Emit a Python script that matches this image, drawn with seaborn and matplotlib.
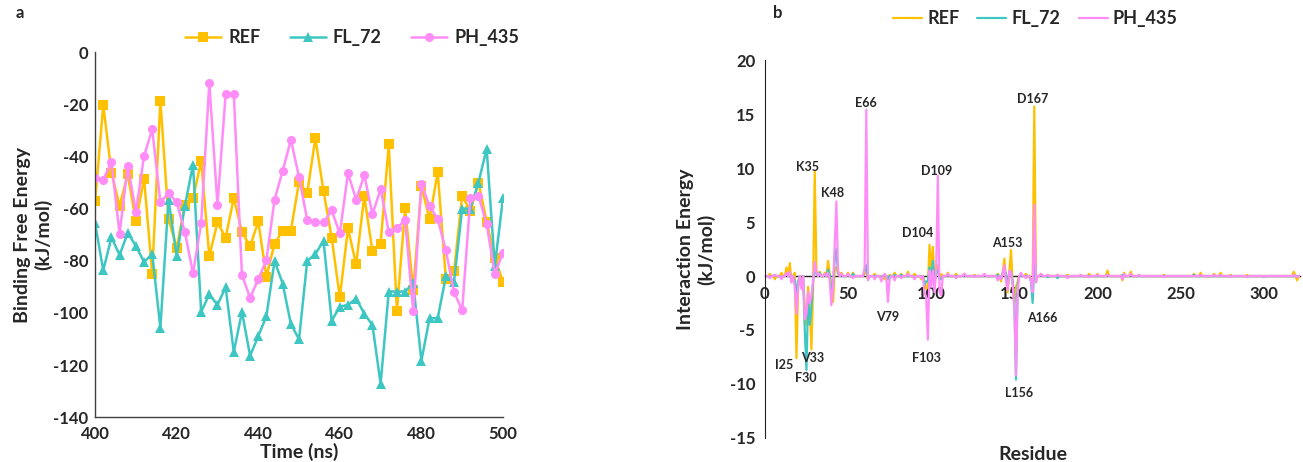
import numpy as np
import pandas as pd
import matplotlib
matplotlib.use("Agg")
import matplotlib.pyplot as plt
import seaborn as sns

# panel a: binding free energy, one frame every 2 ns
time_ns = list(range(400, 501, 2))
ref_bfe = [-57, -20.2, -46.2, -59, -46.8, -64.9, -48.5, -85, -18.6, -64,
           -75.1, -58.5, -56.1, -41.7, -78.3, -65.3, -71.1, -55.9, -68.9, -74.5,
           -64.9, -86.1, -73.4, -68.4, -68.4, -49.8, -54.1, -33, -53.2, -71.1,
           -94, -67.6, -81.4, -55.2, -76.4, -73.4, -35.4, -99.3, -59.9, -91.3,
           -51.4, -64, -46, -87, -84, -55, -61, -50, -65, -79, -88]
fl72_bfe = [-65.7, -83.7, -71, -77.8, -69.3, -74.3, -80.5, -77.4, -105.7, -56.5,
            -78.3, -59, -43.1, -99.6, -92.9, -96.9, -90.2, -115, -99.6, -116.4,
            -109, -101.2, -80.1, -88.8, -104.3, -110.1, -80.1, -77.4, -72.4, -103,
            -97.6, -96.9, -94.5, -100.3, -104.7, -127.2, -91.8, -91.8, -91.8, -88.6,
            -118.4, -102, -102, -86, -88, -60, -60, -50, -37, -82, -56]
ph435_bfe = [-48.2, -48.9, -42.1, -69.7, -43.5, -61.2, -39.8, -29.6, -57.6, -54,
             -57.6, -68.9, -84.8, -65.7, -11.8, -58.5, -16.2, -15.9, -85.5, -94.2,
             -87.1, -79.7, -56.5, -45.5, -33.6, -47.8, -64.3, -65.3, -65.3, -60.7,
             -69.5, -46.4, -56.5, -47.1, -62.2, -52.5, -68.9, -67.6, -64.3, -99.3,
             -50.5, -59, -64, -76, -92, -99, -56, -55, -66, -85, -77]

# panel b: per-residue interaction energy, residues not listed are ~0
n_residues = 322
spike_res = [3, 6, 10, 13, 15, 16, 18, 19, 20, 22, 24, 25, 26, 27, 28, 29, 30, 31, 33, 36,
             38, 39, 40, 41, 42, 43, 44, 46, 50, 53, 60, 61, 62, 66, 70, 72, 74, 75, 78, 82,
             86, 90, 94, 96, 97, 98, 99, 100, 101, 102, 103, 104, 105, 106, 110, 115, 120,
             126, 132, 140, 142, 143, 144, 145, 146, 147, 148, 149, 150, 151, 152, 154, 157,
             160, 161, 162, 163, 166, 170, 176, 182, 190, 195, 200, 206, 215, 216, 220, 225,
             240, 258, 262, 270, 274, 280, 290, 300, 318, 320]
ref_ie = [0.2, -0.3, 0.3, 0.8, 1.2, -0.5, 0.3, -7.6, -1.0, -0.5, -3.0, -4.5, -1.0, -3.0, -6.8, -1.0, 9.7, 0.5, 0.4, 0.3,
          1.4, 0.2, -0.8, -2.4, 0.5, 0.8, 0.2, 0.3, 0.3, 0.3, 0.2, 0.5, -0.3, 0.2, 0.0, -0.3, -0.2, 0.1, 0.3, 0.2,
          0.4, 0.2, -0.3, -0.5, -1.2, -1.0, 2.9, 0.5, 2.7, -0.5, 0.5, 1.0, -0.3, 0.2, 0.3, 0.2, 0.2,
          0.1, 0.1, 0.2, -0.5, 0.3, 1.6, -0.3, -1.5, 0.5, 2.4, -0.8, -2.5, -1.0, -0.5, 0.2, 0.2,
          -0.3, -1.0, 15.7, -0.5, 0.2, 0.1, 0.1, 0.1, 0.1, 0.2, 0.2, 0.5, -0.4, 0.3, 0.4, 0.1,
          0.1, 0.2, 0.3, 0.2, 0.3, 0.1, 0.1, 0.0, 0.4, -0.4]
fl72_ie = [-0.1, 0.1, -0.2, 0.2, 0.3, -0.3, -0.5, -1.5, -0.5, -1.0, -5.0, -8.7, -2.0, -4.5, -3.0, -0.5, 1.0, 0.2, 0.3, 0.1,
           0.6, 0.1, -1.5, -0.8, 1.5, 2.5, 0.3, 0.1, 0.1, 0.2, 0.5, 1.0, -0.2, 0.0, -0.1, 0.1, -0.3, 0.0, 0.1, 0.1,
           0.0, -0.2, -0.1, -0.8, -0.5, -0.5, 0.8, -0.5, 1.4, -0.8, 0.3, 0.5, -0.2, -0.3, 0.1, 0.0, 0.1,
           0.0, 0.1, 0.1, -0.2, 0.3, 0.7, 0.2, -1.0, 0.3, 0.4, -0.5, -2.0, -9.6, -0.8, 0.1, 0.0,
           -0.5, -2.5, 1.0, -0.3, 0.1, -0.1, -0.2, -0.1, 0.0, 0.0, 0.0, 0.1, 0.1, 0.0, 0.1, 0.0,
           0.0, 0.1, 0.0, 0.0, 0.0, 0.0, -0.1, -0.1, 0.0, 0.0]
ph435_ie = [-0.2, 0.1, -0.3, 0.3, 0.4, -0.6, -1.0, -3.5, -1.0, -1.2, -4.0, -3.5, -1.5, -2.5, -1.8, -0.5, 1.3, 0.4, 0.2, 0.2,
            0.3, -0.4, -2.7, -1.0, 3.0, 6.9, 0.5, 0.2, 0.2, -0.2, 0.8, 15.4, -0.4, -0.3, -0.5, 0.2, -2.4, -0.3, -0.4, -0.2,
            0.2, -0.3, -0.2, -1.5, -2.0, -5.9, 0.5, -1.0, 0.5, -1.5, 0.5, 9.3, -1.5, -1.8, 0.2, -0.2, 0.2,
            -0.1, 0.2, -0.4, -0.3, 0.2, 1.0, -0.5, -1.3, 0.5, 0.3, -0.8, -3.0, -9.2, -1.5, 0.3, -0.2,
            -0.4, -1.5, 6.6, -0.6, 0.2, 0.1, 0.1, -0.2, 0.1, -0.1, 0.1, 0.1, -0.3, 0.2, 0.2, 0.1,
            -0.1, 0.0, 0.1, 0.1, 0.1, -0.1, -0.1, -0.1, 0.1, -0.1]

# residue labels and where they sit
label_text = ["K35", "K48", "E66", "D104", "D109", "A153", "D167",
              "I25", "F30", "V33", "V79", "F103", "L156", "A166"]
label_x = [25.5, 41, 61, 92, 103, 145.5, 161, 11.5, 24.7, 28.7, 74, 97, 153, 166.7]
label_y = [10.1, 7.7, 16.0, 4.0, 9.7, 3.1, 16.4, -8.2, -9.4, -7.6, -3.8, -7.6, -10.8, -3.9]

systems = ["REF", "FL_72", "PH_435"]
colors = {"REF": "#FFC000", "FL_72": "#3EC6C2", "PH_435": "#FF8CF7"}
markers = {"REF": "s", "FL_72": "^", "PH_435": "o"}

df_a = pd.DataFrame({
    "Time": time_ns * 3,
    "BFE": ref_bfe + fl72_bfe + ph435_bfe,
    "System": [s for s in systems for _ in time_ns],
})

residue = np.arange(1, n_residues + 1)
rows = []
for name, vals in zip(systems, (ref_ie, fl72_ie, ph435_ie)):
    energy = np.zeros(n_residues)
    energy[np.array(spike_res) - 1] = vals
    rows.append(pd.DataFrame({"Residue": residue, "IE": energy, "System": name}))
df_b = pd.concat(rows, ignore_index=True)

sns.set_style("white")
plt.rcParams["font.family"] = ["Lato", "DejaVu Sans"]
plt.rcParams["font.weight"] = "bold"
plt.rcParams["axes.unicode_minus"] = False

fig = plt.figure(figsize=(13.03, 4.62), dpi=100)
ax1 = fig.add_axes([0.073, 0.097, 0.313, 0.790])
ax2 = fig.add_axes([0.587, 0.052, 0.411, 0.818])

# --- panel a
sns.lineplot(data=df_a, x="Time", y="BFE", hue="System", style="System",
             hue_order=systems, style_order=systems, palette=colors,
             markers=markers, dashes=False, lw=1.8, markersize=6.5,
             markeredgewidth=0, ax=ax1)
ax1.set_xlim(400, 500)
ax1.set_ylim(-140, 0)
ax1.set_xticks(range(400, 501, 20))
ax1.set_yticks(range(-140, 1, 20))
ax1.tick_params(axis="x", length=0, labelsize=12, pad=6)
ax1.tick_params(axis="y", length=0, labelsize=12, pad=5)
ax1.set_xlabel("Time (ns)", fontsize=14, fontweight="bold", labelpad=1)
ax1.set_ylabel("Binding Free Energy\n(kJ/mol)", fontsize=14, fontweight="bold",
               linespacing=1.2)
ax1.yaxis.set_label_coords(-0.105, 0.5)
for side in ("top", "right"):
    ax1.spines[side].set_visible(False)
for side in ("left", "bottom"):
    ax1.spines[side].set_color("#404040")
    ax1.spines[side].set_linewidth(1.0)
sns.move_legend(ax1, "center", bbox_to_anchor=(0.63, 1.04), ncol=3, title=None,
                frameon=False, prop={"weight": "bold", "size": 13},
                handlelength=2.0, columnspacing=1.6, handletextpad=0.4)

# --- panel b
sns.lineplot(data=df_b, x="Residue", y="IE", hue="System", hue_order=systems,
             palette=colors, lw=1.6, ax=ax2)
ax2.set_xlim(0, n_residues)
ax2.set_ylim(-15, 20)
ax2.set_xticks(range(0, 301, 50))
ax2.set_yticks(range(-15, 21, 5))
ax2.tick_params(length=0, labelsize=12, pad=7)
ax2.spines["bottom"].set_position(("data", 0))
ax2.spines["bottom"].set_color("#222222")
ax2.spines["bottom"].set_linewidth(1.0)
ax2.spines["bottom"].set_zorder(0)
ax2.spines["left"].set_color("#222222")
for side in ("top", "right"):
    ax2.spines[side].set_visible(False)
ax2.set_xlabel("Residue", fontsize=14, fontweight="bold")
ax2.xaxis.set_label_coords(0.5, -0.02)
ax2.set_ylabel("Interaction Energy\n(kJ/mol)", fontsize=14, fontweight="bold",
               linespacing=1.2)
ax2.yaxis.set_label_coords(-0.092, 0.5)
for txt, x, y in zip(label_text, label_x, label_y):
    ax2.text(x, y, txt, fontsize=9, fontweight="bold", ha="center", va="center")
sns.move_legend(ax2, "center", bbox_to_anchor=(0.505, 1.11), ncol=3, title=None,
                frameon=False, prop={"weight": "bold", "size": 13},
                handlelength=1.6, columnspacing=1.0, handletextpad=0.3)

fig.text(0.012, 0.96, "a", fontsize=12, fontweight="bold")
fig.text(0.593, 0.96, "b", fontsize=12, fontweight="bold")

fig.savefig("out.png", dpi=100)
